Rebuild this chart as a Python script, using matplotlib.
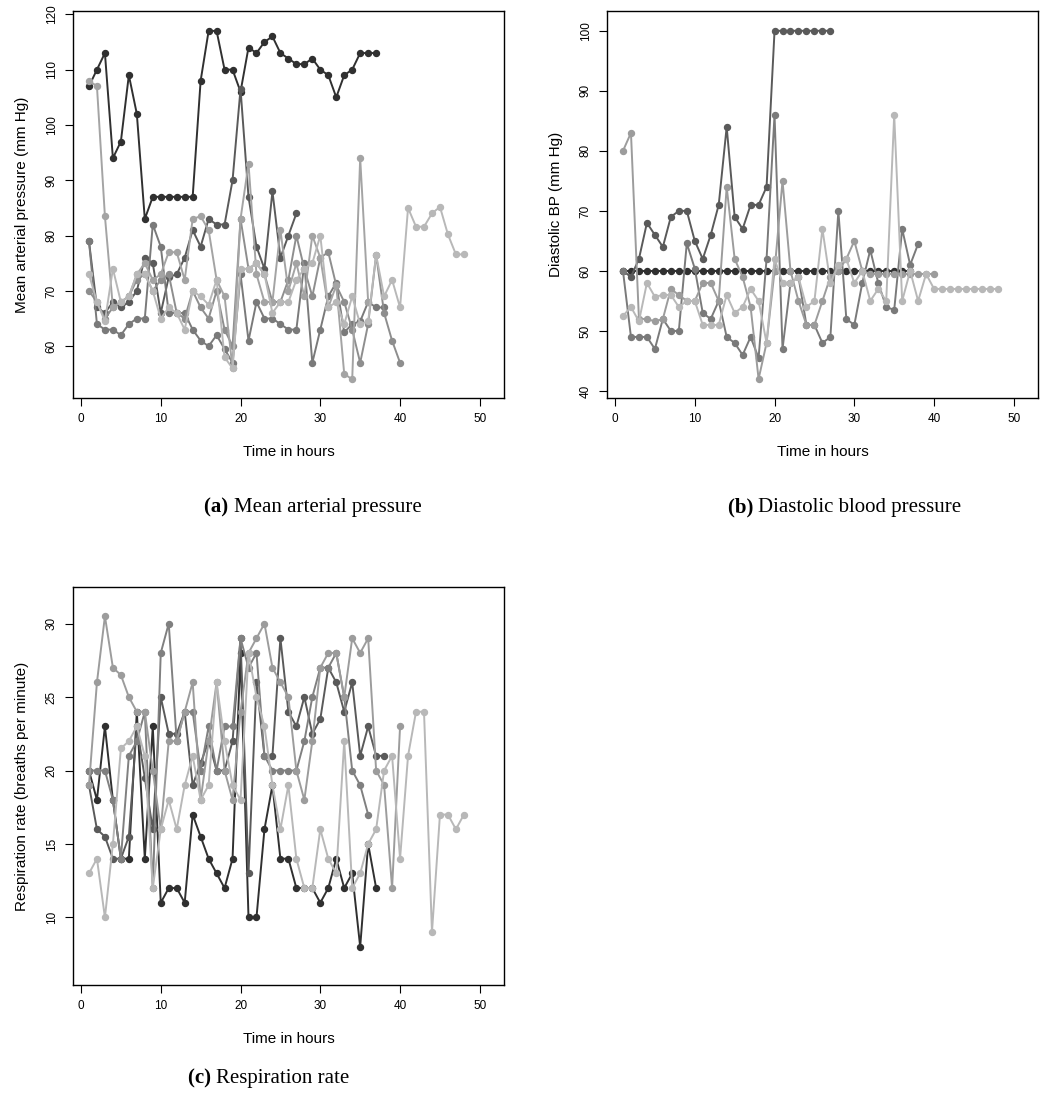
import numpy as np
import matplotlib
matplotlib.use("Agg")
import matplotlib.pyplot as plt

# one list per patient, first value is hour 1
map_series = [
    [107, 110, 113, 94, 97, 109, 102, 83, 87, 87, 87, 87, 87, 87, 108, 117, 117, 110, 110, 106,
     114, 113, 115, 116, 113, 112, 111, 111, 112, 110, 109, 105, 109, 110, 113, 113, 113],
    [79, 67, 66, 68, 67, 68, 70, 76, 75, 66, 72.5, 73, 76, 81, 78, 83, 82, 82, 90, 106.5,
     87, 78, 74, 88, 76, 80, 84],
    [79, 64, 63, 63, 62, 64, 65, 65, 82, 78, 66, 66, 66, 63, 61, 60, 62, 59.5, 57, 73,
     61, 68, 65, 65, 64, 63, 63, 75, 57, 63, 69, 71.5, 62.5, 64, 64.5, 68, 67, 67],
    [70, 68, 65, 67, 68, 69, 72, 73, 70, 72, 73, 66, 65, 70, 67, 65, 70, 63, 60, 83,
     74, 75, 73, 68, 68, 72, 80, 74, 69, 76, 77, 71, 68, 63, 57, 64, 76.5, 66, 61, 57],
    [108, 107, 83.5, 67, 68, 69, 73, 75, 72, 73, 77, 77, 72, 83, 83.5, 81, 72, 69, 56, 83,
     93, 73, 68, 68, 81, 70, 75, 69, 80, 76, 67, 71, 55, 54, 94, 68],
    [73, 68, 64.5, 74, 68, 69, 73, 73, 70, 65, 67, 66, 63, 70, 69, 67.5, 72, 58, 56, 74,
     74, 75, 73, 66, 68, 68, 72, 74, 75, 80, 67, 68, 64, 69, 64, 64.5, 76.5, 69, 72, 67,
     85, 81.6, 81.6, 84, 85.2, 80.2, 76.6, 76.6],
]
map_colors = ["#303030", "#5a5a5a", "#7a7a7a", "#8e8e8e", "#a4a4a4", "#b8b8b8"]

dbp_series = [
    [60] * 37,
    [60, 59, 62, 68, 66, 64, 69, 70, 70, 65, 62, 66, 71, 84, 69, 67, 71, 71, 74,
     100, 100, 100, 100, 100, 100, 100, 100],
    [60, 49, 49, 49, 47, 52, 50, 50, 64.6, 60.4, 53, 52, 55, 49, 48, 46, 49, 45.5, 62, 86,
     47, 58, 59, 51, 51, 48, 49, 70, 52, 51, 58, 63.5, 58, 54, 53.5, 67, 61, 64.5],
    [80, 83, 52, 52, 51.6, 52, 57, 56, 55, 55, 58, 58, 55, 74, 62, 59, 54, 42, 48, 60,
     75, 60, 55, 51, 51, 55, 59, 60, 62, 65, 60, 59.5, 59.5, 59.5, 59.5, 59.5, 59.5, 59.5,
     59.5, 59.5],
    [52.5, 54, 51.6, 58, 55.7, 56, 56, 54, 55, 55, 51, 51, 51, 56, 53, 54, 57, 55, 48, 62,
     58, 58, 59, 54, 55, 67, 58, 61, 62, 58, 60, 55, 57, 55, 86, 55, 60, 55, 59.5, 57,
     57, 57, 57, 57, 57, 57, 57, 57],
]
dbp_colors = ["#303030", "#5a5a5a", "#7a7a7a", "#9c9c9c", "#b8b8b8"]

resp_series = [
    [20, 18, 23, 18, 14, 14, 24, 14, 23, 11, 12, 12, 11, 17, 15.5, 14, 13, 12, 14, 28,
     10, 10, 16, 19, 14, 14, 12, 12, 12, 11, 12, 14, 12, 13, 8, 15, 12],
    [19, 16, 15.5, 14, 14, 15.5, 23, 19.5, 16, 25, 22.5, 22.5, 24, 19, 20.5, 22, 20, 20, 22, 29,
     13, 26, 21, 21, 29, 24, 23, 25, 22.5, 23.5, 27, 26, 24, 26, 21, 23, 21, 21],
    [20, 20, 20, 18, 14, 21, 22, 24, 12, 28, 30, 22, 24, 24, 20, 23, 20, 23, 23, 29,
     27, 28, 21, 20, 20, 20, 20, 22, 25, 27, 27, 28, 25, 20, 19, 17],
    [19, 26, 30.5, 27, 26.5, 25, 24, 24, 20, 16, 22, 22, 24, 26, 18, 22, 26, 20, 18, 24,
     28, 29, 30, 27, 26, 25, 20, 18, 22, 27, 28, 28, 25, 29, 28, 29, 20, 19, 12, 23],
    [13, 14, 10, 15, 21.5, 22, 23, 21, 12, 16, 18, 16, 19, 21, 18, 19, 26, 22, 19, 18,
     28, 25, 23, 19, 16, 19, 14, 12, 12, 16, 14, 13, 22, 12, 13, 15, 16, 20, 21, 14,
     21, 24, 24, 9, 17, 17, 16, 17],
]
resp_colors = ["#303030", "#5a5a5a", "#808080", "#9c9c9c", "#b8b8b8"]

x_ticks = [0, 10, 20, 30, 40, 50]

fig = plt.figure(figsize=(10.43, 11.0), dpi=100)
sans = ["Liberation Sans", "DejaVu Sans"]
serif = ["Liberation Serif", "DejaVu Serif"]


def panel(rect, series, colors, ylim, yticks, ylabel):
    ax = fig.add_axes(rect)
    for vals, col in zip(series, colors):
        hours = np.arange(1, len(vals) + 1)
        ax.plot(hours, vals, color=col, lw=1.4, marker="o", ms=4.3, mec=col, mfc=col)
    ax.set_xlim(-1, 53)
    ax.set_ylim(*ylim)
    ax.set_xticks(x_ticks)
    ax.set_yticks(yticks)
    ax.tick_params(direction="out", length=6, width=0.8, labelsize=8.5, pad=5)
    for lab in ax.get_xticklabels() + ax.get_yticklabels():
        lab.set_family(sans)
    for lab in ax.get_yticklabels():
        lab.set_rotation(90)
        lab.set_va("center")
    for sp in ax.spines.values():
        sp.set_linewidth(1.0)
    ax.set_xlabel("Time in hours", family=sans, fontsize=11, labelpad=14)
    ax.set_ylabel(ylabel, family=sans, fontsize=11, labelpad=12)
    return ax


panel([0.070, 0.638, 0.413, 0.352], map_series, map_colors, (50.6, 120.6),
      [60, 70, 80, 90, 100, 110, 120], "Mean arterial pressure (mm Hg)")
panel([0.582, 0.638, 0.413, 0.352], dbp_series, dbp_colors, (38.8, 103.3),
      [40, 50, 60, 70, 80, 90, 100], "Diastolic BP (mm Hg)")
panel([0.070, 0.1045, 0.413, 0.362], resp_series, resp_colors, (5.4, 32.5),
      [10, 15, 20, 25, 30], "Respiration rate (breaths per minute)")


def caption(x, y, tag, text):
    fig.text(x, y, tag + " ", family=serif, fontsize=15, fontweight="bold", ha="right", va="center")
    fig.text(x, y, text, family=serif, fontsize=15, ha="left", va="center")


caption(0.224, 0.539, "(a)", "Mean arterial pressure")
caption(0.727, 0.539, "(b)", "Diastolic blood pressure")
caption(0.207, 0.020, "(c)", "Respiration rate")

fig.savefig("out.png", dpi=100)
